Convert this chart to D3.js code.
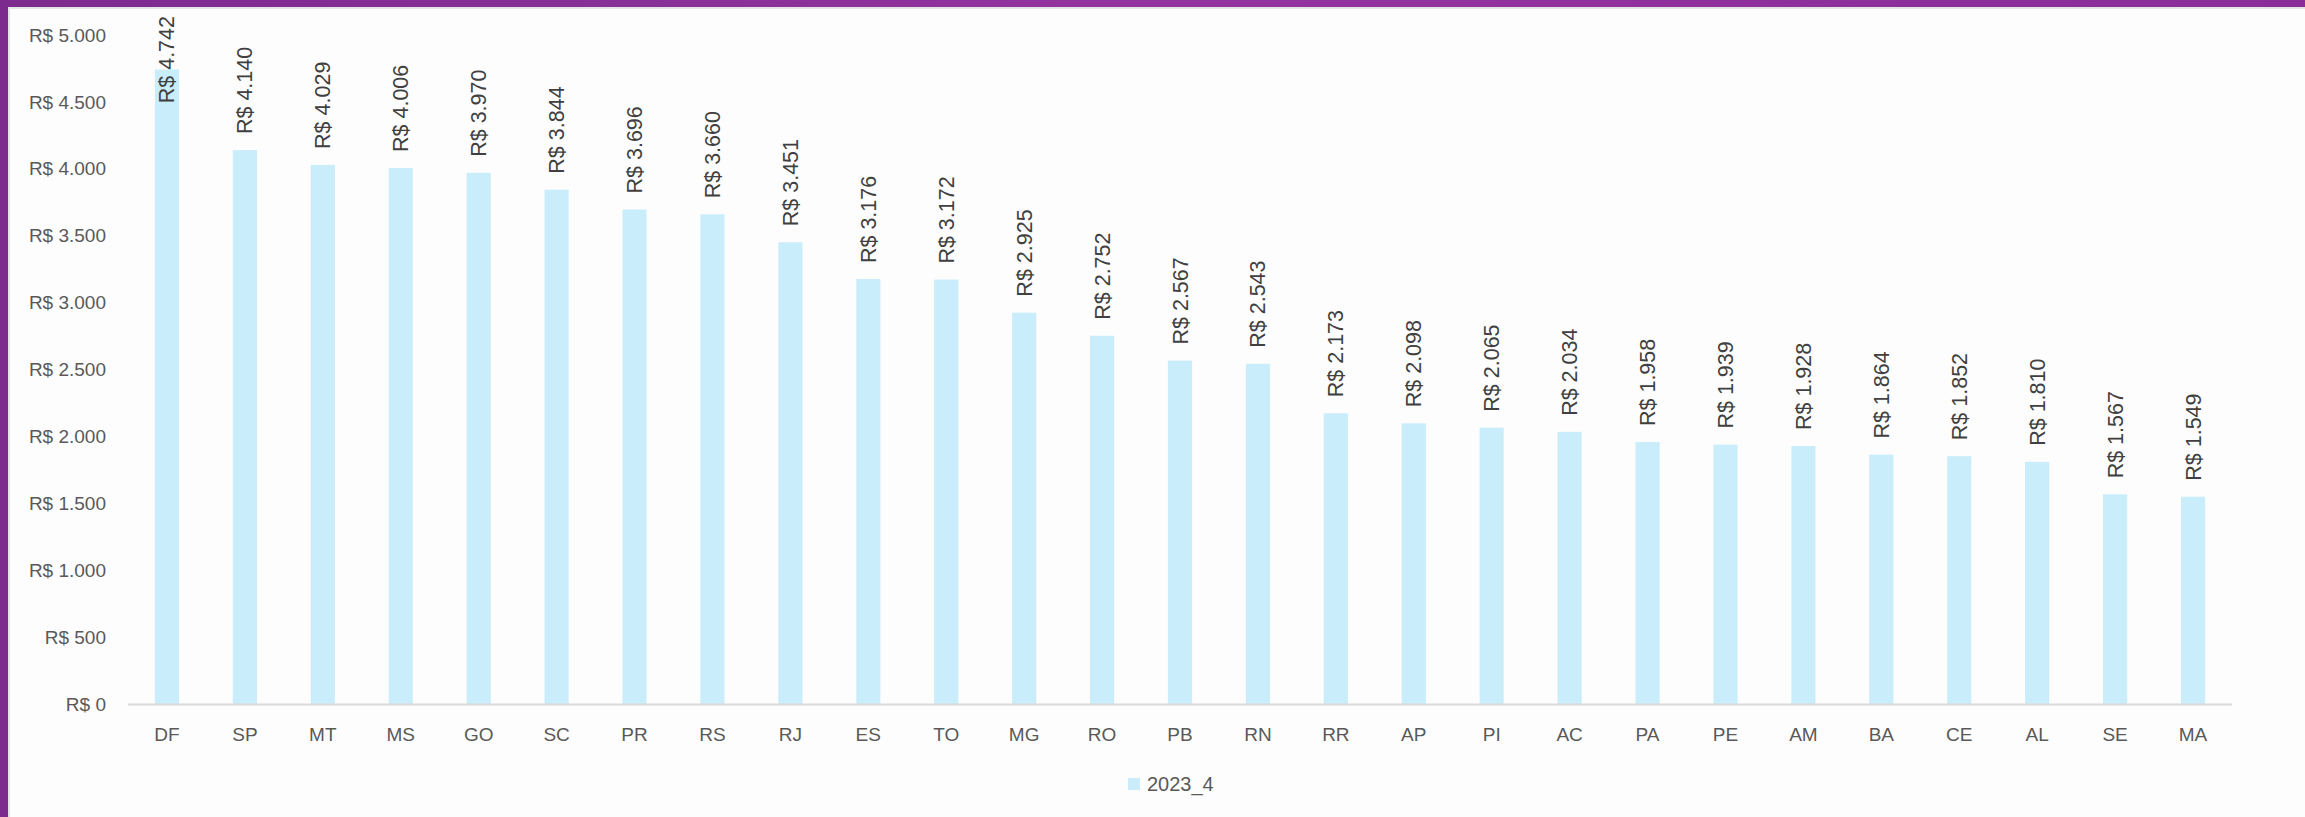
<!DOCTYPE html>
<html>
<head>
<meta charset="utf-8">
<script src="https://cdn.jsdelivr.net/npm/d3@7"></script>
<style>
  html, body { margin: 0; padding: 0; overflow: hidden; }
  body { width: 2305px; height: 817px; background: linear-gradient(90deg, #7d2a8f, #93339f 50%, #8a2d98); }
  svg { position: absolute; left: 0; top: 0; }
</style>
</head>
<body>
<script>
// chart data
const states = ["DF","SP","MT","MS","GO","SC","PR","RS","RJ","ES","TO","MG","RO","PB","RN","RR","AP","PI","AC","PA","PE","AM","BA","CE","AL","SE","MA"];
const values = [4742,4140,4029,4006,3970,3844,3696,3660,3451,3176,3172,2925,2752,2567,2543,2173,2098,2065,2034,1958,1939,1928,1864,1852,1810,1567,1549];
const yTicks = [0,500,1000,1500,2000,2500,3000,3500,4000,4500,5000];
const seriesName = "2023_4";

const W = 2305, H = 817;
const svg = d3.select("body").append("svg")
    .attr("width", W)
    .attr("height", H);

// white panel over the purple frame
svg.append("rect")
    .attr("x", 9).attr("y", 8)
    .attr("width", W - 8).attr("height", H - 7)
    .attr("fill", "#fdfdfd")
    .attr("stroke", "#e4e4e4")
    .attr("stroke-width", 2);

const plotLeft = 128, plotRight = 2232, plotTop = 35, plotBottom = 704;
const font = "'Liberation Sans', Arial, sans-serif";
const grey = "#595959";

const x = d3.scaleBand().domain(states).range([plotLeft, plotRight]).paddingInner(0.69).paddingOuter(0.345);
const y = d3.scaleLinear().domain([0, 5000]).range([plotBottom, plotTop]);

const fmt = d => "R$ " + d3.format(",")(d).replace(/,/g, ".");

// bars
svg.selectAll(".bar")
    .data(values)
    .enter().append("rect")
    .attr("class", "bar")
    .attr("x", (d, i) => x(states[i]))
    .attr("y", d => y(d))
    .attr("width", x.bandwidth())
    .attr("height", d => plotBottom - y(d))
    .attr("fill", "#caedfb");

// x axis line
svg.append("line")
    .attr("x1", plotLeft).attr("x2", plotRight)
    .attr("y1", plotBottom + 0.5).attr("y2", plotBottom + 0.5)
    .attr("stroke", "#d9d9d9")
    .attr("stroke-width", 2);

// y tick labels
svg.selectAll(".ytick")
    .data(yTicks)
    .enter().append("text")
    .attr("class", "ytick")
    .attr("x", 106)
    .attr("y", d => y(d))
    .attr("dy", "0.35em")
    .attr("text-anchor", "end")
    .attr("font-family", font)
    .attr("font-size", 19)
    .attr("fill", grey)
    .text(fmt);

// x tick labels
svg.selectAll(".xtick")
    .data(states)
    .enter().append("text")
    .attr("class", "xtick")
    .attr("x", d => x(d) + x.bandwidth() / 2)
    .attr("y", 734)
    .attr("dy", "0.35em")
    .attr("text-anchor", "middle")
    .attr("font-family", font)
    .attr("font-size", 19)
    .attr("fill", grey)
    .text(d => d);

// data labels, rotated; pushed down when they hit the top
const labels = svg.selectAll(".lbl")
    .data(values)
    .enter().append("text")
    .attr("class", "lbl")
    .attr("font-family", font)
    .attr("font-size", 21.5)
    .attr("fill", "#404040")
    .attr("dy", "0.35em")
    .text(fmt);

labels.each(function(d, i) {
    const len = this.getComputedTextLength();
    const cx = x(states[i]) + x.bandwidth() / 2;
    const base = Math.max(y(d) - 16, 16 + len);
    d3.select(this).attr("transform", "translate(" + cx + "," + base + ") rotate(-90)");
});

// legend
const lx = 1128;
svg.append("rect")
    .attr("x", lx).attr("y", 778)
    .attr("width", 12).attr("height", 12)
    .attr("fill", "#caedfb");
svg.append("text")
    .attr("x", lx + 19).attr("y", 784)
    .attr("dy", "0.35em")
    .attr("font-family", font)
    .attr("font-size", 20)
    .attr("fill", grey)
    .text(seriesName);
</script>
</body>
</html>
